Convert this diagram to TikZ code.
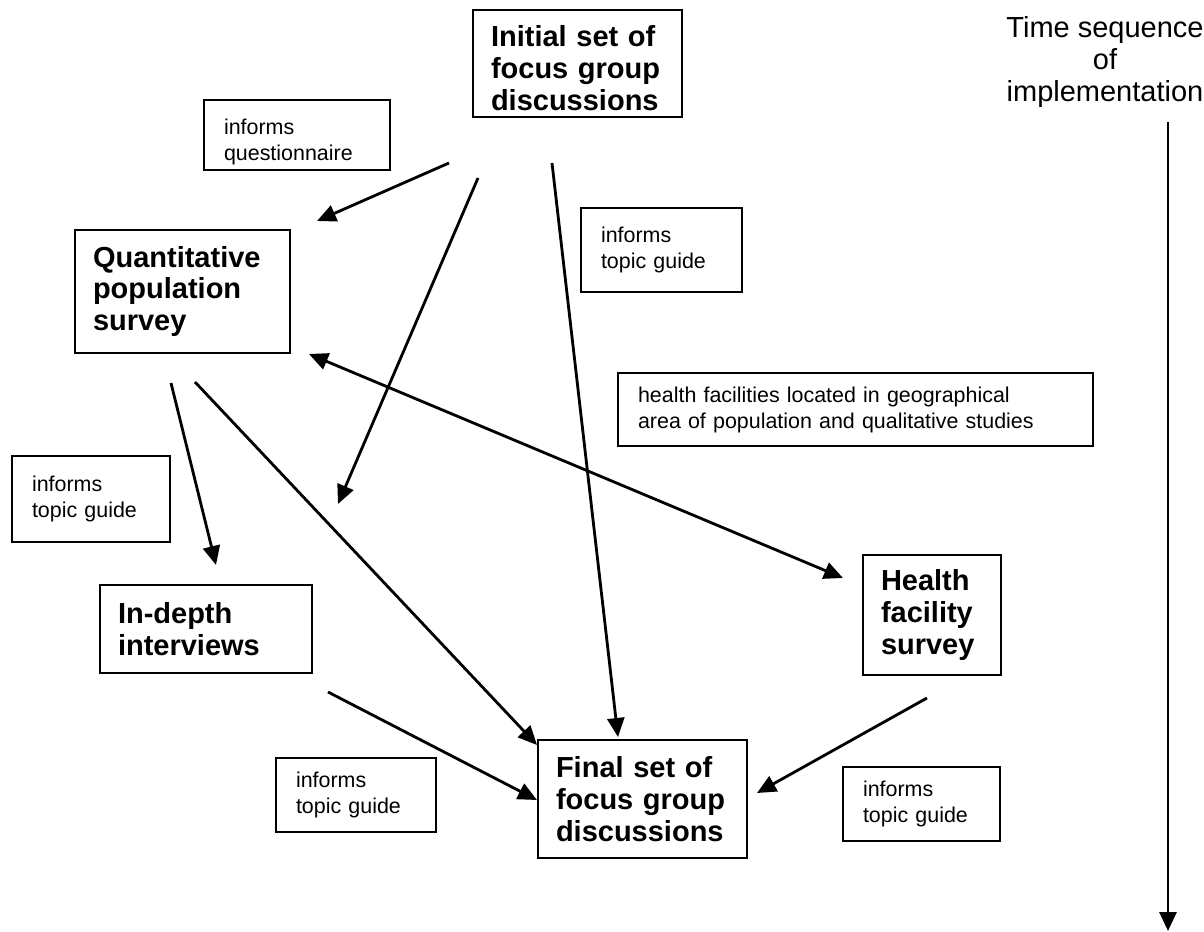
\documentclass[tikz,border=0pt]{standalone}
\usepackage{fontspec}
\setmainfont{Liberation Sans}
\usetikzlibrary{arrows.meta}
\tikzset{
	every node/.style = {align=left, inner ysep=0pt},
	bigbox/.style = {draw, line width=1.1pt, inner xsep=0.36cm, font=\bfseries\fontsize{16.5}{18.2}\selectfont},
	smallbox/.style = {draw, line width=0.9pt, inner xsep=0.4cm, font=\fontsize{12.2}{14.8}\selectfont},
	tip/.style = {Triangle[length=0.38cm, width=0.34cm]},
	link/.style = {line width=1.6pt, -{Triangle[length=0.38cm, width=0.34cm]}}
}

\begin{document}
\begin{tikzpicture}[x=0.02cm, y=-0.02cm]
		\useasboundingbox (0,0) rectangle (1204,932);
		% main boxes
		\node[bigbox, text width=3.46cm, minimum height=2.14cm] (initial) at (577.5,63.5) {\rule{0pt}{0.62cm}Initial set of\\focus group\\discussions};
		\node[bigbox, text width=3.58cm, minimum height=2.46cm] (quant) at (182.5,291.5) {Quantitative\\population\\survey};
		\node[bigbox, text width=3.52cm, minimum height=1.76cm] (indepth) at (206,629) {In-depth\\interviews};
		\node[bigbox, text width=2.04cm, minimum height=2.40cm] (health) at (932,615) {Health\\facility\\survey};
		\node[bigbox, text width=3.46cm, minimum height=2.36cm] (final) at (642.5,799) {Final set of\\focus group\\discussions};
		
		% labels
		\node[smallbox, text width=2.92cm, minimum height=1.40cm] (quest) at (297,135) {\rule{0pt}{0.58cm}informs\\questionnaire};
		\node[smallbox, text width=2.42cm, minimum height=1.68cm] (guideA) at (661.5,250) {informs\\topic guide};
		\node[smallbox, text width=8.70cm, minimum height=1.46cm] (area) at (855.5,409.5) {health facilities located in geographical\\area of population and qualitative studies};
		\node[smallbox, text width=2.36cm, minimum height=1.72cm] (guideB) at (91,499) {informs\\topic guide};
		\node[smallbox, text width=2.40cm, minimum height=1.48cm] (guideC) at (356,795) {informs\\topic guide};
		\node[smallbox, text width=2.34cm, minimum height=1.48cm] (guideD) at (921.5,804) {informs\\topic guide};
		
		% time
		\node[align=center, inner sep=0pt, font=\fontsize{16.5}{18.2}\selectfont] (time) at (1105,62) {Time sequence\\of\\implementation};
		\coordinate (tstart) at (1168,122);
		\coordinate (tend) at (1168,931);
		\draw[link] (tstart) -- (tend);
		
		% arrows
		\coordinate (s1) at (449,163); \coordinate (e1) at (317,221);
		\coordinate (s2) at (478,178); \coordinate (e2) at (338,504);
		\coordinate (s3) at (552,163); \coordinate (e3) at (618,737);
		\coordinate (s4) at (171,383); \coordinate (e4) at (216,565);
		\coordinate (s5) at (195,382); \coordinate (e5) at (537,745);
		\coordinate (s6) at (328,692); \coordinate (e6) at (537,800);
		\coordinate (s7) at (927,698); \coordinate (e7) at (757,793);
		\foreach \i in {1,...,7}
			\draw[link] (s\i) -- (e\i);
		
		\coordinate (both1) at (309,354);
		\coordinate (both2) at (843,578);
		\draw[link, {Triangle[length=0.38cm, width=0.34cm]}-{Triangle[length=0.38cm, width=0.34cm]}] (both1) -- (both2);
	\end{tikzpicture}
\end{document}
